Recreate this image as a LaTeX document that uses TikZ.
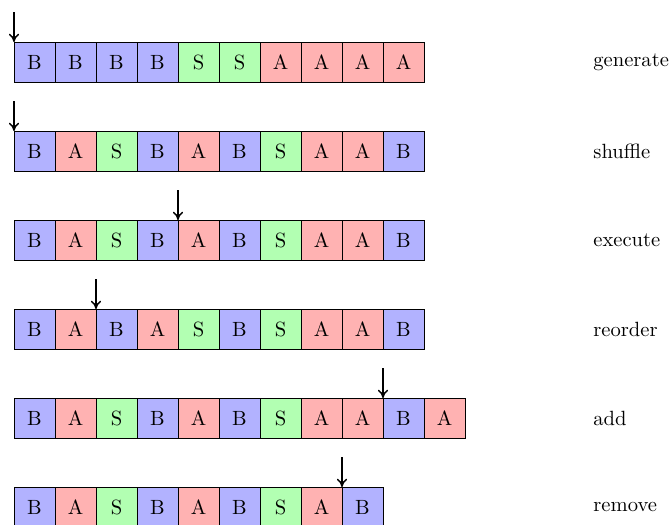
\documentclass[tikz,border=0pt]{standalone}
\usetikzlibrary{arrows.meta}
\begin{document}
\begin{tikzpicture}[x=0.017073cm,y=-0.017073cm,
  cell/.style={draw=black, line width=0.4pt, minimum width=41*0.017073cm, minimum height=40*0.017073cm, inner sep=0pt, outer sep=0pt, anchor=north west},
  B/.style={cell, fill=blue!30},
  S/.style={cell, fill=green!30},
  A/.style={cell, fill=red!30},
  lbl/.style={anchor=west, inner sep=0pt},
  ptr/.style={-{To[length=4pt,width=5pt]}, line width=0.7pt}]
\useasboundingbox (0,0) rectangle (670,525);
\foreach \row/\seq/\lab/\ptrpos in {1/{B,B,B,B,S,S,A,A,A,A}/generate/0,
                        2/{B,A,S,B,A,B,S,A,A,B}/shuffle/0,
                        3/{B,A,S,B,A,B,S,A,A,B}/execute/4,
                        4/{B,A,B,A,S,B,S,A,A,B}/reorder/2,
                        5/{B,A,S,B,A,B,S,A,A,B,A}/add/9,
                        6/{B,A,S,B,A,B,S,A,B}/remove/8}{
  \pgfmathsetmacro{\ytop}{42+89*(\row-1)}
  \foreach \t [count=\i from 0] in \seq {
    \node[\t] (r\row c\i) at ({14+41*\i},\ytop) {\t};
  }
  \node[lbl] (lab\row) at (593,{\ytop+20}) {\lab};
  \coordinate (p\row) at ({14+41*\ptrpos},{\ytop-30});
  \draw[ptr] (p\row) -- (r\row c\ptrpos.north west);
}
\end{tikzpicture}
\end{document}
